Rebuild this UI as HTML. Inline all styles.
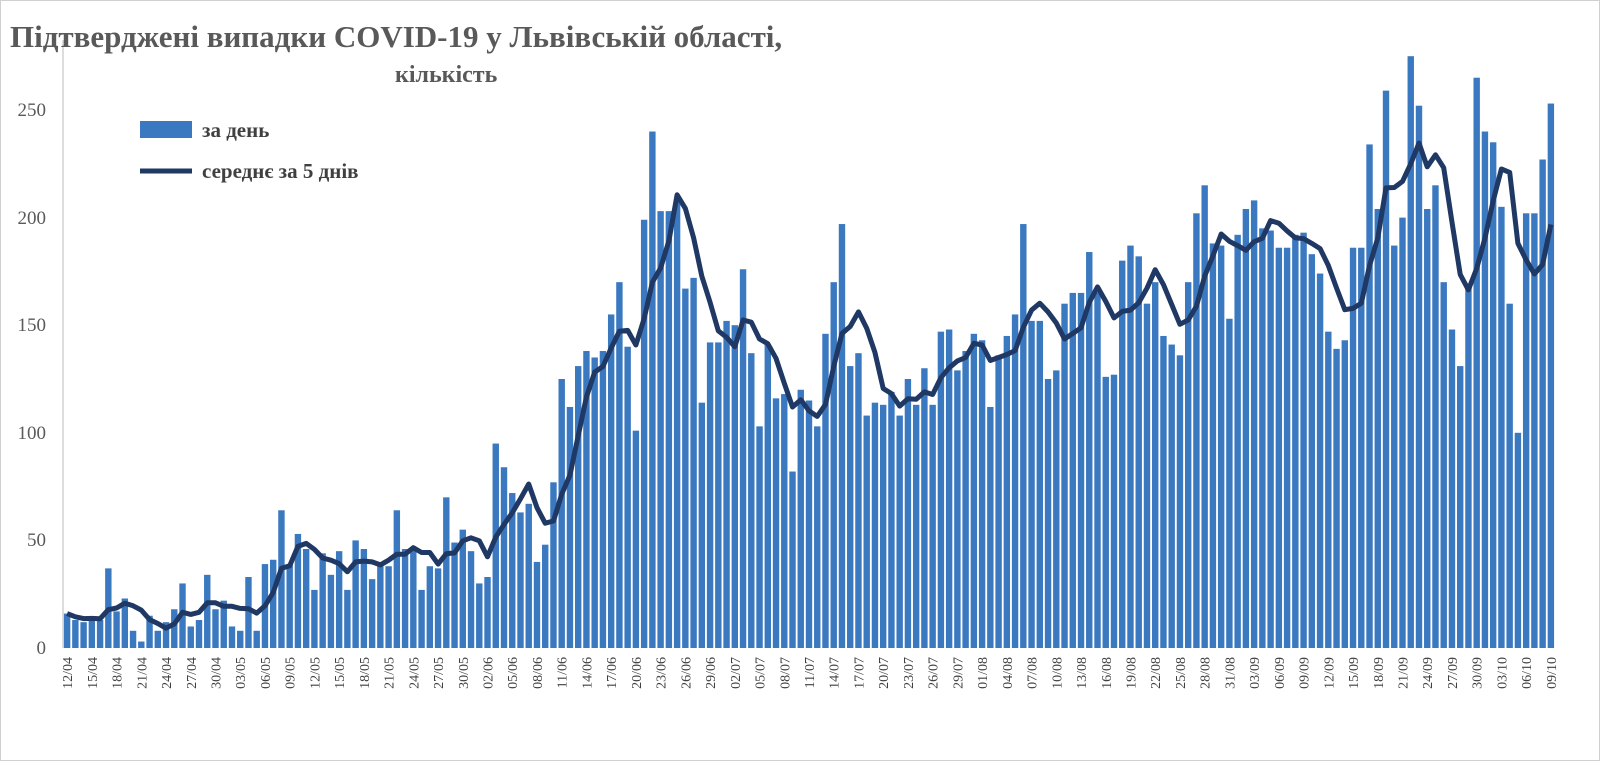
<!DOCTYPE html>
<html><head><meta charset="utf-8"><style>
html,body{margin:0;padding:0;background:#fff}
svg{display:block}
text{font-family:"Liberation Serif",serif}
</style></head><body>
<svg id="s" width="1600" height="761" viewBox="0 0 1600 761">
<rect x="0.5" y="0.5" width="1599" height="760" fill="#fff" stroke="#d0d0d0"/>
<line x1="63" y1="40" x2="63" y2="648" stroke="#bbb" stroke-width="1"/>
<g font-size="19" fill="#595959" text-anchor="end">
<text x="46" y="654">0</text><text x="46" y="546">50</text><text x="46" y="439">100</text>
<text x="46" y="331">150</text><text x="46" y="224">200</text><text x="46" y="116">250</text>
</g>
<text x="10" y="47" font-size="31" font-weight="bold" fill="#595959">Підтверджені випадки COVID-19 у Львівській області,</text>
<text x="395" y="82" font-size="24" font-weight="bold" fill="#595959">кількість</text>
<g id="bars"></g>
<path id="ma" fill="none" stroke="#1f3864" stroke-width="5" stroke-linejoin="round"/>
<rect x="140" y="121" width="52" height="17" fill="#3a78c0"/>
<text x="202" y="137" font-size="21" font-weight="bold" fill="#404040">за день</text>
<line x1="140" y1="171" x2="192" y2="171" stroke="#1f3864" stroke-width="5"/>
<text x="202" y="178" font-size="21" font-weight="bold" fill="#404040">середнє за 5 днів</text>
<g id="lab" font-size="14" fill="#404040" text-anchor="end">
<text>12/04</text><text>15/04</text><text>18/04</text><text>21/04</text><text>24/04</text><text>27/04</text><text>30/04</text><text>03/05</text><text>06/05</text><text>09/05</text><text>12/05</text><text>15/05</text><text>18/05</text><text>21/05</text><text>24/05</text><text>27/05</text><text>30/05</text><text>02/06</text><text>05/06</text><text>08/06</text><text>11/06</text><text>14/06</text><text>17/06</text><text>20/06</text><text>23/06</text><text>26/06</text><text>29/06</text><text>02/07</text><text>05/07</text><text>08/07</text><text>11/07</text><text>14/07</text><text>17/07</text><text>20/07</text><text>23/07</text><text>26/07</text><text>29/07</text><text>01/08</text><text>04/08</text><text>07/08</text><text>10/08</text><text>13/08</text><text>16/08</text><text>19/08</text><text>22/08</text><text>25/08</text><text>28/08</text><text>31/08</text><text>03/09</text><text>06/09</text><text>09/09</text><text>12/09</text><text>15/09</text><text>18/09</text><text>21/09</text><text>24/09</text><text>27/09</text><text>30/09</text><text>03/10</text><text>06/10</text><text>09/10</text>
</g>
</svg>
<script>
var v=[16,13,12,14,13,37,17,23,8,3,15,8,12,18,30,10,13,34,18,
22,10,8,33,8,39,41,64,39,53,46,27,44,34,45,27,50,46,32,38,38,64,46,47,27,38,37,70,49,55,45,
30,33,95,84,72,63,67,40,48,77,125,112,131,138,135,138,155,170,140,101,199,240,203,203,208,167,172,114,142,142,
152,150,176,137,103,141,116,118,82,120,115,103,146,170,197,131,137,108,114,113,119,108,125,113,130,113,147,148,129,138,146,
143,112,136,145,155,197,152,152,125,129,160,165,165,184,165,126,127,180,187,182,160,170,145,141,136,170,202,215,188,187,153,
192,204,208,195,194,186,186,192,193,183,174,147,139,143,186,186,234,204,259,187,200,275,252,204,215,170,148,131,168,265,
240,235,205,160,100,202,202,227,253];
var n=v.length,x0=63,w=1492/n,y0=648,k=2.152,ns="http://www.w3.org/2000/svg";
var g=document.getElementById('bars'),d='';
for(var i=0;i<n;i++){var cx=x0+(i+0.5)*w;var r=document.createElementNS(ns,'rect');
r.setAttribute('x',cx-3.2);r.setAttribute('width',6.4);r.setAttribute('y',y0-v[i]*k);r.setAttribute('height',v[i]*k);r.setAttribute('fill','#3a78c0');g.appendChild(r);
var a=0,c=0;for(var j=Math.max(0,i-4);j<=i;j++){a+=v[j];c++;}
d+=(i?'L':'M')+cx.toFixed(1)+','+(y0-a/c*k).toFixed(1);}
document.getElementById('ma').setAttribute('d',d);
var t=document.getElementById('lab').children;
for(var i=0;i<t.length;i++){var cx=x0+(i*3+0.5)*w+5;t[i].setAttribute('transform','translate('+cx+',657) rotate(-90)');}
</script>
</body></html>
